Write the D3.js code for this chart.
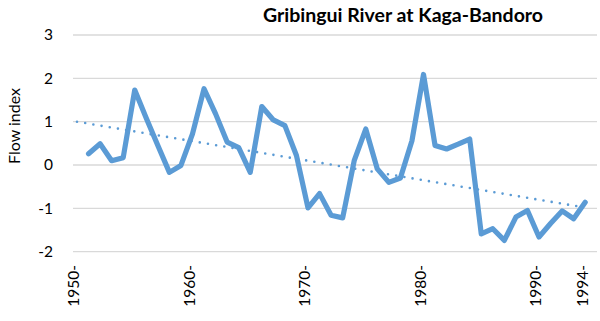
<!DOCTYPE html>
<html>
<head>
<meta charset="utf-8">
<script src="https://cdn.jsdelivr.net/npm/d3@7"></script>
<style>
  html, body { margin: 0; padding: 0; background: #fff; }
  svg { display: block; font-family: Lato, "Open Sans", sans-serif; }
</style>
</head>
<body>
<svg id="chart" width="600" height="321"></svg>
<script>
// flow index per year
const years = d3.range(1951, 1995);
const flowIndex = [
  0.26, 0.49, 0.10, 0.17, 1.73, 1.08, 0.45, -0.17, -0.01, 0.72,
  1.76, 1.18, 0.53, 0.40, -0.17, 1.35, 1.04, 0.91, 0.22, -0.99,
  -0.66, -1.16, -1.22, 0.10, 0.83, -0.09, -0.40, -0.30, 0.56, 2.09,
  0.45, 0.37, 0.48, 0.60, -1.59, -1.47, -1.74, -1.20, -1.05, -1.66,
  -1.35, -1.06, -1.24, -0.86
];
// linear trend end points (dotted line)
const trendYears = [1950, 1993.3];
const trendValues = [1.0, -0.95];

const xTicks = [1950, 1960, 1970, 1980, 1990, 1994];
const xTickLabels = ["1950-", "1960-", "1970-", "1980-", "1990-", "1994-"];
const yTicks = [-2, -1, 0, 1, 2, 3];

const blue = "#5b9bd5";
const svg = d3.select("#chart");

const x = d3.scaleLinear().domain([1950, 1994]).range([77, 585.2]);
const y = d3.scaleLinear().domain([-2, 3]).range([251.7, 35]);

// gridlines
svg.append("g")
  .selectAll("line")
  .data(yTicks)
  .join("line")
  .attr("x1", 73).attr("x2", 597)
  .attr("y1", d => y(d)).attr("y2", d => y(d))
  .attr("stroke", "#d9d9d9")
  .attr("stroke-width", 1.3);

// y axis labels
svg.append("g")
  .selectAll("text")
  .data(yTicks)
  .join("text")
  .attr("x", 53)
  .attr("y", d => y(d))
  .attr("dy", "0.35em")
  .attr("text-anchor", "end")
  .attr("font-size", 15.5)
  .attr("fill", "#000")
  .text(d => d);

// x axis labels (rotated)
svg.append("g")
  .selectAll("text")
  .data(xTicks)
  .join("text")
  .attr("transform", d => `translate(${x(d) - 3},265) rotate(-90)`)
  .attr("dy", "0.35em")
  .attr("text-anchor", "end")
  .attr("font-size", 15.5)
  .attr("fill", "#000")
  .text((d, i) => xTickLabels[i]);

// axis title
svg.append("text")
  .attr("transform", "translate(14,126) rotate(-90)")
  .attr("dy", "0.35em")
  .attr("text-anchor", "middle")
  .attr("font-size", 16)
  .attr("fill", "#000")
  .text("Flow index");

// chart title
svg.append("text")
  .attr("x", 403)
  .attr("y", 15)
  .attr("dy", "0.35em")
  .attr("text-anchor", "middle")
  .attr("font-size", 19.5)
  .attr("font-weight", "bold")
  .attr("fill", "#000")
  .text("Gribingui River at Kaga-Bandoro");

// trend line (dotted)
const trend = trendYears.map((yr, i) => [yr, trendValues[i]]);
svg.append("path")
  .datum(trend)
  .attr("d", d3.line().x(d => x(d[0])).y(d => y(d[1])))
  .attr("fill", "none")
  .attr("stroke", blue)
  .attr("stroke-width", 2.6)
  .attr("stroke-linecap", "round")
  .attr("stroke-dasharray", "0 8.3");

// flow series
const series = years.map((yr, i) => [yr, flowIndex[i]]);
svg.append("path")
  .datum(series)
  .attr("d", d3.line().x(d => x(d[0])).y(d => y(d[1])))
  .attr("fill", "none")
  .attr("stroke", blue)
  .attr("stroke-width", 5.2)
  .attr("stroke-linejoin", "round")
  .attr("stroke-linecap", "round");
</script>
</body>
</html>
